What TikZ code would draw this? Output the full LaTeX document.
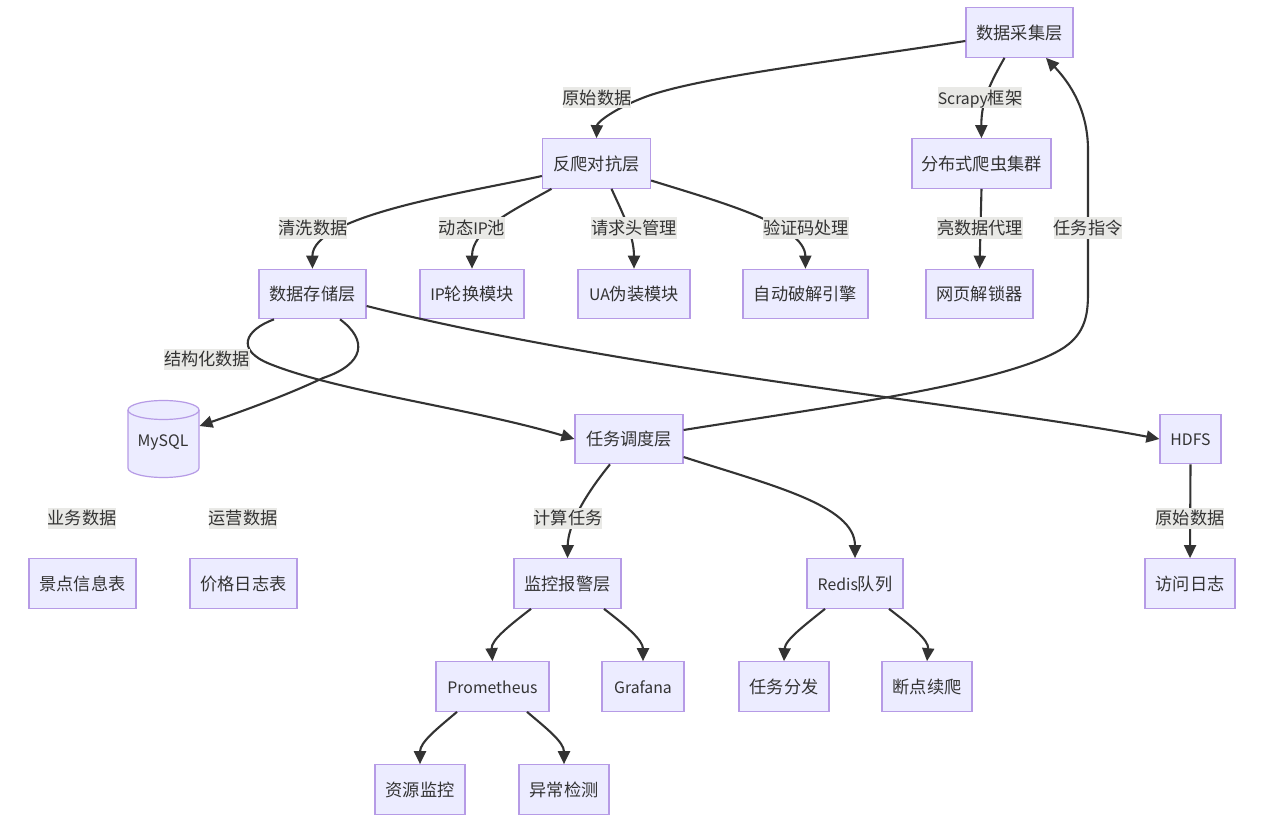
\documentclass[tikz,border=0pt]{standalone}
\usepackage{fontspec}
\setmainfont{Noto Sans CJK SC}
\usetikzlibrary{arrows.meta}
\definecolor{boxfill}{HTML}{ECECFF}
\definecolor{boxline}{HTML}{B69BE6}
\definecolor{ink}{HTML}{333333}
\definecolor{lab}{HTML}{E9E9E6}
\newcommand\latn[1]{{\fontsize{15.8}{20}\selectfont #1}}
\tikzset{
  x=1pt,y=-1pt,
  every node/.style={font=\fontsize{17.2}{20}\selectfont,text=ink,inner sep=0pt,text height=14.5pt,text depth=1pt},
  box/.style={draw=boxline,fill=boxfill,line width=1.2pt,minimum height=49.5pt},
  tag/.style={fill=lab,minimum height=21pt,inner xsep=0pt},
  edge/.style={draw=ink,line width=2.1pt,-{Triangle[length=13pt,width=12pt]}},
}
\begin{document}
\begin{tikzpicture}
\useasboundingbox[fill=white] (0,0) rectangle (1270,824);
% boxes
\node[box,minimum width=107pt] (collect) at (1019.5,32.5) {数据采集层};
\node[box,minimum width=108pt] (anti) at (596.5,163.5) {反爬对抗层};
\node[box,minimum width=139pt] (crawler) at (981.5,163.5) {分布式爬虫集群};
\node[box,minimum width=107pt] (store) at (312.5,294) {数据存储层};
\node[box,minimum width=104pt] (ip) at (472,294) {\latn{IP}轮换模块};
\node[box,minimum width=112pt] (ua) at (634,294) {\latn{UA}伪装模块};
\node[box,minimum width=125pt] (solver) at (805.5,294) {自动破解引擎};
\node[box,minimum width=107pt] (unlock) at (979.5,294) {网页解锁器};
\node[box,minimum width=108pt] (sched) at (629,439) {任务调度层};
\node[box,minimum width=61pt] (hdfs) at (1190.5,439) {\latn{HDFS}};
\node[box,minimum width=107pt] (t1) at (82.5,583.5) {景点信息表};
\node[box,minimum width=107pt] (t2) at (243.5,583.5) {价格日志表};
\node[box,minimum width=107pt] (monitor) at (567.5,583.5) {监控报警层};
\node[box,minimum width=96pt] (redis) at (855,583.5) {\latn{Redis}队列};
\node[box,minimum width=90pt] (log) at (1190,583.5) {访问日志};
\node[box,minimum width=113pt] (prom) at (492.5,686.5) {\latn{Prometheus}};
\node[box,minimum width=82pt] (graf) at (643,686.5) {\latn{Grafana}};
\node[box,minimum width=90pt] (dispatch) at (784,686.5) {任务分发};
\node[box,minimum width=90pt] (resume) at (927,686.5) {断点续爬};
\node[box,minimum width=90pt] (res) at (420,789.5) {资源监控};
\node[box,minimum width=90pt] (anom) at (564,789.5) {异常检测};
% cylinder
\path[draw=boxline,fill=boxfill,line width=1.2pt] (128,410) arc[x radius=35.5,y radius=9.5,start angle=180,end angle=360] -- (199,468) arc[x radius=35.5,y radius=9.5,start angle=0,end angle=180] -- cycle;
\path[draw=boxline,line width=1.2pt] (128,410) arc[x radius=35.5,y radius=9.5,start angle=180,end angle=0];
\node[minimum width=71pt,minimum height=78pt] (mysql) at (163.5,439) {};
\node (mysqltext) at (163,439.5) {\latn{MySQL}};
\coordinate (mysqlport) at (199.5,426);
% connectors
\path[edge] ([yshift=-8.5pt]collect.west) .. controls (830,62) and (690,78) .. (640,99) .. controls (615,109) and (597,122) .. (anti.north);
\path[edge] ([xshift=-15pt]collect.south) .. controls (992,80) and (981,100) .. (crawler.north);
\path[edge] ([yshift=-12.5pt]anti.west) .. controls (470,192) and (312,215) .. (store.north);
\path[edge] ([xshift=-45pt]anti.south) .. controls (510,212) and (472,230) .. (ip.north);
\path[edge] ([xshift=15pt]anti.south) .. controls (622,212) and (634,235) .. (ua.north);
\path[edge] ([yshift=-17pt]anti.east) .. controls (720,202) and (805,225) .. (solver.north);
\path[edge] (crawler.south) -- (unlock.north);
\path[edge] ([xshift=-38.5pt]store.south) .. controls (245,330) and (235,350) .. (270,364) .. controls (340,392) and (470,408) .. (sched.west);
\path[edge] ([xshift=27.5pt]store.south) .. controls (368,340) and (365,364) .. (323,378) .. controls (285,396) and (240,412) .. (mysqlport);
\path[edge] ([yshift=-12pt]store.east) .. controls (620,370) and (980,405) .. (hdfs.west);
\path[edge] ([yshift=9pt]sched.east) .. controls (820,408) and (1000,385) .. (1060,350) .. controls (1088,334) and (1088,310) .. (1088,290) -- (1088,150) .. controls (1088,105) and (1065,78) .. ([xshift=26.5pt]collect.south);
\path[edge] ([xshift=-19pt]sched.south) .. controls (585,495) and (568,525) .. (monitor.north);
\path[edge] ([yshift=-18pt]sched.east) .. controls (770,485) and (855,505) .. (redis.north);
\path[edge] (hdfs.south) -- (log.north);
\path[edge] ([xshift=-36.5pt]monitor.south) .. controls (510,625) and (491,640) .. (prom.north);
\path[edge] ([xshift=36.5pt]monitor.south) .. controls (625,625) and (643,640) .. (graf.north);
\path[edge] ([xshift=-30pt]redis.south) .. controls (805,625) and (785,640) .. (dispatch.north);
\path[edge] ([xshift=34pt]redis.south) .. controls (910,625) and (929,640) .. (resume.north);
\path[edge] ([xshift=-35.5pt]prom.south) .. controls (438,728) and (420,742) .. (res.north);
\path[edge] ([xshift=34.5pt]prom.south) .. controls (546,728) and (564,742) .. (anom.north);
% labels
\node[tag] (l1) at (597,98) {原始数据};
\node[tag] (l2) at (980,98) {\latn{Scrapy}框架};
\node[tag] (l3) at (313,228) {清洗数据};
\node[tag] (l4) at (472,228) {动态\latn{IP}池};
\node[tag] (l5) at (634,228) {请求头管理};
\node[tag] (l6) at (806,228) {验证码处理};
\node[tag] (l7) at (980,228) {亮数据代理};
\node[tag] (l8) at (1088,228) {任务指令};
\node[tag] (l9) at (207,359) {结构化数据};
\node[tag] (l10) at (82,518) {业务数据};
\node[tag] (l11) at (243,518) {运营数据};
\node[tag] (l12) at (568,518) {计算任务};
\node[tag] (l13) at (1190,518) {原始数据};
\end{tikzpicture}
\end{document}
